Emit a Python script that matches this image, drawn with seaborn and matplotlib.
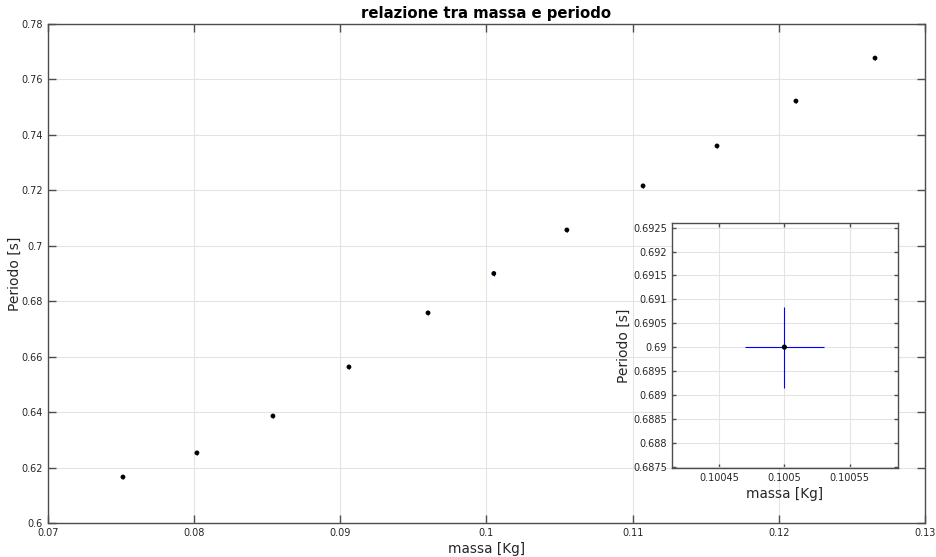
import numpy as np
import pandas as pd
import matplotlib
matplotlib.use("Agg")
import matplotlib.pyplot as plt
import seaborn as sns
from matplotlib.ticker import FuncFormatter

# masses [Kg] and periods [s]
massa = [0.07513, 0.08019, 0.08539, 0.09059, 0.0960, 0.1005,
         0.1055, 0.11071, 0.11577, 0.12117, 0.12658]
periodo = [0.6166, 0.6253, 0.6386, 0.6563, 0.6758, 0.6900,
           0.7057, 0.7216, 0.7360, 0.7522, 0.7677]
err_massa = [0.00003] * len(massa)
err_periodo = [0.00085] * len(massa)

df = pd.DataFrame({"massa": massa, "periodo": periodo})

sns.set_style("ticks")
plt.rcParams['font.family'] = ['DejaVu Sans']

axis_col = "#4d4d4d"
text_col = "#262626"
fmt_g = FuncFormatter(lambda v, p: f"{v:g}")


def style_axes(ax, ticklen):
    for s in ax.spines.values():
        s.set_color(axis_col)
        s.set_linewidth(1.0)
    ax.tick_params(direction="in", top=True, right=True, length=ticklen,
                   color=axis_col, labelsize=7, labelcolor=text_col, width=1.0)
    ax.grid(True, color="#e3e3e3", linewidth=0.8)
    ax.set_axisbelow(True)
    ax.xaxis.set_major_formatter(fmt_g)
    ax.yaxis.set_major_formatter(fmt_g)


fig = plt.figure(figsize=(9.37, 5.57), dpi=100)
ax = fig.add_axes([0.0512, 0.061, 0.936, 0.896])

ax.errorbar(massa, periodo, xerr=err_massa, yerr=err_periodo, fmt="none",
            ecolor="blue", elinewidth=0.8, capsize=0)
sns.scatterplot(data=df, x="massa", y="periodo", ax=ax, color="black",
                s=12, edgecolor="none", zorder=3)
ax.set_xlim(0.07, 0.13)
ax.set_ylim(0.6, 0.78)
ax.set_xticks(np.arange(0.07, 0.1301, 0.01))
ax.set_yticks(np.arange(0.6, 0.7801, 0.02))
style_axes(ax, 6)
ax.set_xlabel("massa [Kg]", fontsize=9.8, color=text_col, labelpad=3)
ax.set_ylabel("Periodo [s]", fontsize=10, color=text_col, labelpad=0)
ax.set_title("relazione tra massa e periodo", fontsize=10.7, fontweight="bold",
             color="black", pad=4)

# zoomed inset around the sixth measurement
i = 5
axin = fig.add_axes([0.7172, 0.1598, 0.2412, 0.44])
axin.errorbar([massa[i]], [periodo[i]], xerr=[err_massa[i]], yerr=[err_periodo[i]],
              fmt="none", ecolor="blue", elinewidth=0.8, capsize=0)
sns.scatterplot(x=[massa[i]], y=[periodo[i]], ax=axin, color="black",
                s=14, edgecolor="none", zorder=3)
axin.set_xlim(0.100414, 0.100587)
axin.set_ylim(0.68747, 0.6926)
axin.set_xticks([0.10045, 0.1005, 0.10055])
axin.set_yticks(np.arange(0.6875, 0.69251, 0.0005))
style_axes(axin, 3)
axin.set_xlabel("massa [Kg]", fontsize=9.8, color=text_col, labelpad=3)
axin.set_ylabel("Periodo [s]", fontsize=10, color=text_col, labelpad=2)

fig.savefig("out.png", dpi=100)
